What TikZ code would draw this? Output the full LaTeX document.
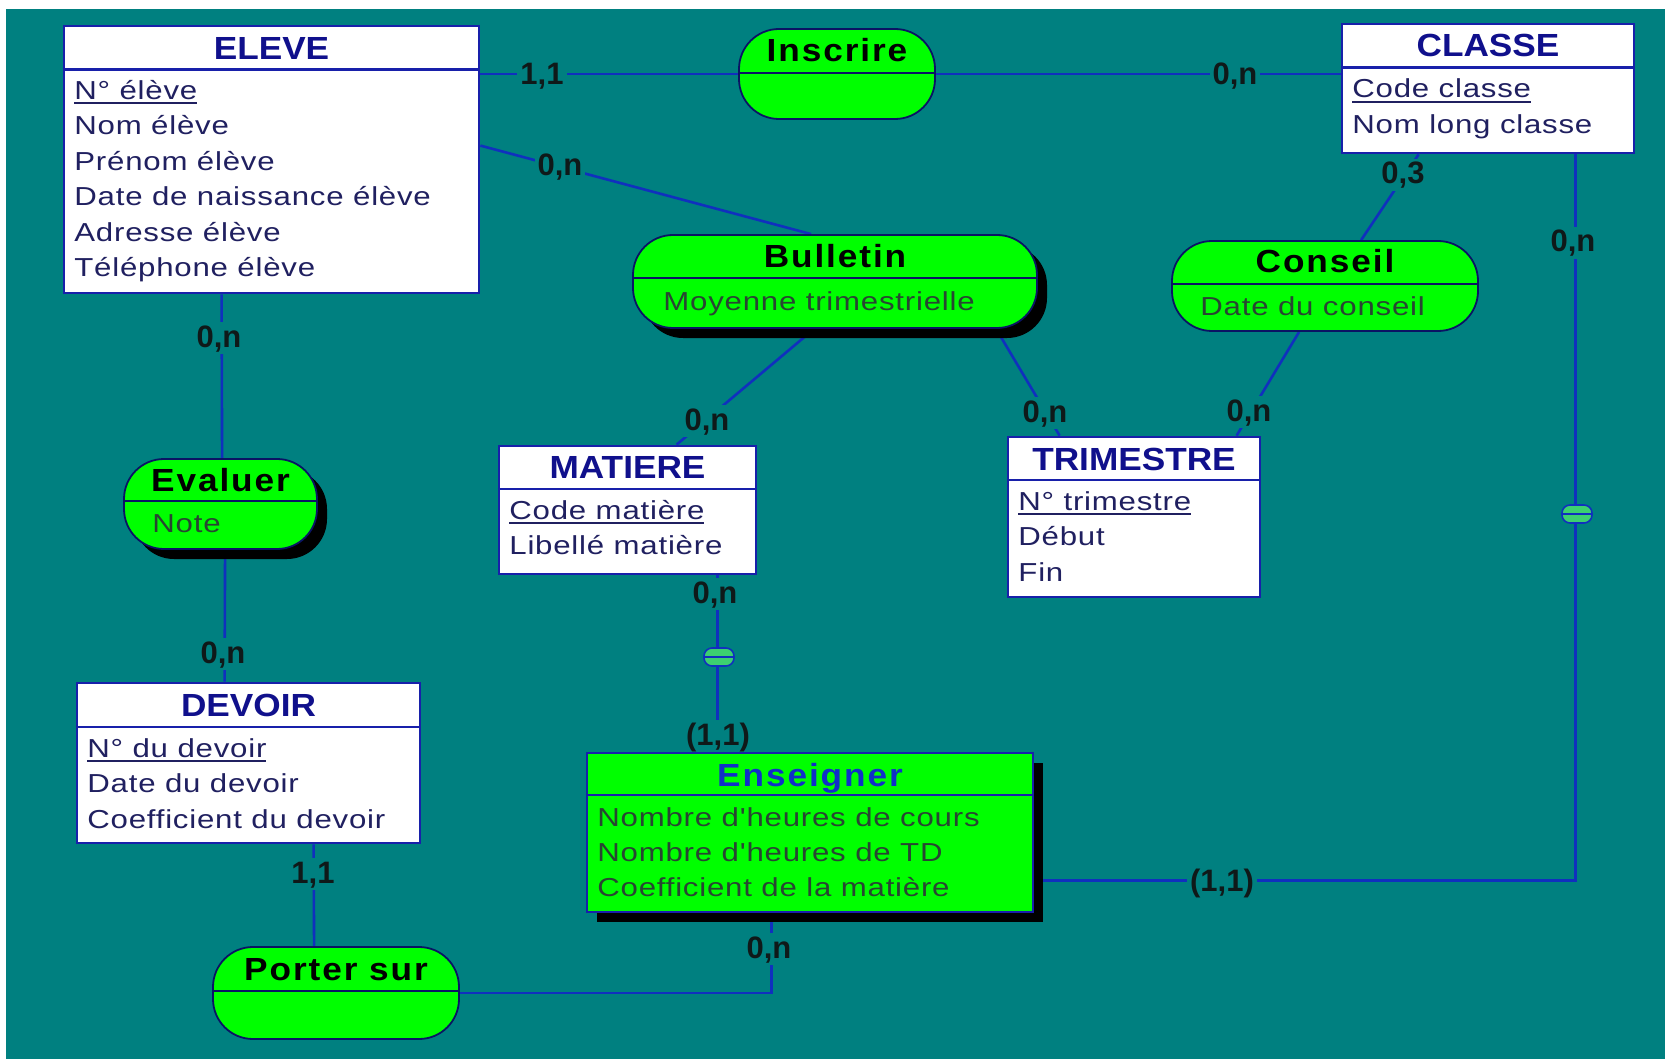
\documentclass[tikz,border=0pt]{standalone}
\usepackage{fontspec}
\setmainfont{Liberation Sans}[Ligatures=TeXOff, FakeStretch=1.2, LetterSpace=3]
\newfontfamily\headfont{Liberation Sans}[FakeStretch=1.1]
\newfontfamily\assocfont{Liberation Sans}[FakeStretch=1.1, LetterSpace=6]
\newfontfamily\cardfont{Liberation Sans}[FakeStretch=1.0]
\usetikzlibrary{fit, calc, shadows}

\definecolor{bgteal}{RGB}{0,128,128}
\definecolor{boxgreen}{RGB}{0,255,0}
\definecolor{linkblue}{RGB}{16,48,190}
\definecolor{entline}{RGB}{24,32,170}
\definecolor{relline}{RGB}{10,20,100}
\definecolor{enttitle}{RGB}{16,16,140}
\definecolor{enttext}{RGB}{32,32,96}
\definecolor{reltext}{RGB}{40,70,50}
\definecolor{asstitle}{RGB}{16,48,200}
\definecolor{eqgreen}{RGB}{60,208,112}
\definecolor{cardtext}{RGB}{15,25,25}

% underlined identifier of an entity
\newcommand\keyattr[1]{\setbox0=\hbox{#1}\rlap{\rule[-2.3pt]{\wd0}{0.8pt}}\box0}

\pgfdeclarelayer{back}
\pgfsetlayers{back,main}

\tikzset{
  link/.style={draw=linkblue, line width=1.3pt},
  entity/.style={draw=entline, line width=1.4pt, fill=white, inner sep=0pt},
  relation/.style={draw=relline, line width=0.9pt, fill=boxgreen, inner sep=0pt, rounded corners=20pt},
  shadowed/.style={drop shadow={shadow xshift=5pt, shadow yshift=-5pt, opacity=1, fill=black}},
  entrule/.style={draw=entline, line width=1.1pt},
  relrule/.style={draw=relline, line width=0.9pt},
  etitle/.style={anchor=base, font=\headfont\bfseries\fontsize{16}{18}\selectfont, text=enttitle, inner sep=0pt},
  rtitle/.style={anchor=base, font=\assocfont\bfseries\fontsize{16}{18}\selectfont, text=black, inner sep=0pt},
  eattr/.style={anchor=base west, font=\fontsize{13}{15}\selectfont, text=enttext, inner sep=0pt},
  rattr/.style={anchor=base west, font=\fontsize{13}{15}\selectfont, text=reltext, inner sep=0pt},
  card/.style={font=\cardfont\bfseries\fontsize{15.5}{17}\selectfont, text=cardtext, fill=bgteal,
    inner sep=1.5pt, text height=11pt, text depth=2pt},
  eqsign/.style={draw=linkblue, line width=0.8pt, fill=eqgreen, rounded corners=4pt,
    minimum width=15pt, minimum height=9pt, inner sep=0pt,
    path picture={\draw[linkblue, line width=0.9pt] (path picture bounding box.west) -- (path picture bounding box.east);}},
}

\begin{document}
\begin{tikzpicture}[x=0.5pt, y=-0.5pt]
\useasboundingbox (0,0) rectangle (1665,1059);
\begin{pgfonlayer}{back}
  \fill[white] (0,0) rectangle (1665,1059);
  \fill[bgteal] (6,9) rectangle (1665,1059);
\end{pgfonlayer}

% entities
\node[entity, fit={(64,26) (479,293)}] (eleve) {};
\node[entity, fit={(1342,24) (1634,153)}] (classe) {};
\node[entity, fit={(499,446) (756,574)}] (matiere) {};
\node[entity, fit={(1008,437) (1260,597)}] (trimestre) {};
\node[entity, fit={(77,683) (420,843)}] (devoir) {};
\node[entity, shadowed, fill=boxgreen, fit={(587,753) (1033,912)}] (enseigner) {};

% associations
\node[relation, fit={(739,29) (935,119)}] (inscrire) {};
\node[relation, shadowed, fit={(633,235) (1037,328)}] (bulletin) {};
\node[relation, fit={(1172,241) (1478,331)}] (conseil) {};
\node[relation, shadowed, fit={(124,459) (317,549)}] (evaluer) {};
\node[relation, fit={(213,947) (459,1039)}] (porter) {};

% header rules
\draw[entrule] ($(eleve.north west)+(0,45)$) -- ($(eleve.north east)+(0,45)$);
\draw[entrule] ($(classe.north west)+(0,45)$) -- ($(classe.north east)+(0,45)$);
\draw[entrule] ($(matiere.north west)+(0,44)$) -- ($(matiere.north east)+(0,44)$);
\draw[entrule] ($(trimestre.north west)+(0,44)$) -- ($(trimestre.north east)+(0,44)$);
\draw[entrule] ($(devoir.north west)+(0,45)$) -- ($(devoir.north east)+(0,45)$);
\draw[entrule] ($(enseigner.north west)+(0,43)$) -- ($(enseigner.north east)+(0,43)$);
\draw[relrule] ($(inscrire.north west)+(0,45)$) -- ($(inscrire.north east)+(0,45)$);
\draw[relrule] ($(bulletin.north west)+(0,44)$) -- ($(bulletin.north east)+(0,44)$);
\draw[relrule] ($(conseil.north west)+(0,44)$) -- ($(conseil.north east)+(0,44)$);
\draw[relrule] ($(evaluer.north west)+(0,43)$) -- ($(evaluer.north east)+(0,43)$);
\draw[relrule] ($(porter.north west)+(0,45)$) -- ($(porter.north east)+(0,45)$);

% titles
\node[etitle] (eleve-title) at (271.5,60) {ELEVE};
\node[etitle] (classe-title) at (1488,57) {CLASSE};
\node[etitle] (matiere-title) at (627.5,478) {MATIERE};
\node[etitle] (trimestre-title) at (1134,470) {TRIMESTRE};
\node[etitle] (devoir-title) at (248.5,716) {DEVOIR};
\node[rtitle, text=asstitle] (enseigner-title) at (810,786) {Enseigner};
\node[rtitle] (inscrire-title) at (837,62) {Inscrire};
\node[rtitle] (bulletin-title) at (835,268) {Bulletin};
\node[rtitle] (conseil-title) at (1325,273) {Conseil};
\node[rtitle] (evaluer-title) at (220.5,491) {Evaluer};
\node[rtitle] (porter-title) at (336,980) {Porter sur};

% attributes
\node[eattr] (eleve-a1) at (74,99.5) {\keyattr{N° élève}};
\node[eattr] (eleve-a2) at (74,135) {Nom élève};
\node[eattr] (eleve-a3) at (74,170.5) {Prénom élève};
\node[eattr] (eleve-a4) at (74,206) {Date de naissance élève};
\node[eattr] (eleve-a5) at (74,241.5) {Adresse élève};
\node[eattr] (eleve-a6) at (74,277) {Téléphone élève};

\node[eattr] (classe-a1) at (1352,98) {\keyattr{Code classe}};
\node[eattr] (classe-a2) at (1352,133.5) {Nom long classe};

\node[eattr] (matiere-a1) at (509,519) {\keyattr{Code matière}};
\node[eattr] (matiere-a2) at (509,554.5) {Libellé matière};

\node[eattr] (trimestre-a1) at (1018,510) {\keyattr{N° trimestre}};
\node[eattr] (trimestre-a2) at (1018,545.5) {Début};
\node[eattr] (trimestre-a3) at (1018,581) {Fin};

\node[eattr] (devoir-a1) at (87,757) {\keyattr{N° du devoir}};
\node[eattr] (devoir-a2) at (87,792.5) {Date du devoir};
\node[eattr] (devoir-a3) at (87,828) {Coefficient du devoir};

\node[rattr] (enseigner-a1) at (597,826) {Nombre d'heures de cours};
\node[rattr] (enseigner-a2) at (597,861) {Nombre d'heures de TD};
\node[rattr] (enseigner-a3) at (597,896) {Coefficient de la matière};

\node[rattr] (bulletin-a1) at (663,310) {Moyenne trimestrielle};
\node[rattr] (conseil-a1) at (1200,315) {Date du conseil};
\node[rattr] (evaluer-a1) at (152,532) {Note};

% connectors
\begin{pgfonlayer}{back}
  \draw[link] (eleve.east |- inscrire.west) -- (inscrire.west);
  \draw[link] (inscrire.east) -- (inscrire.east -| classe.west);
  \draw[link] ($(eleve.north east)+(0,121)$) -- ($(bulletin.north west)+(179,0)$);
  \draw[link] ($(eleve.south west)+(159,0)$) -- ($(evaluer.north west)+(99,0)$);
  \draw[link] ($(evaluer.south west)+(102,0)$) -- ($(devoir.north west)+(149,0)$);
  \draw[link] ($(devoir.south west)+(238,0)$) -- ($(porter.north west)+(102,0)$);
  \draw[link] (porter.east) -| ($(enseigner.south west)+(186,0)$);
  \draw[link] ($(bulletin.south west)+(182,0)$) -- ($(matiere.north west)+(179,0)$);
  \draw[link] ($(bulletin.south west)+(364,0)$) -- ($(trimestre.north west)+(53,0)$);
  \draw[link] ($(conseil.north west)+(190,0)$) -- ($(classe.south west)+(78,0)$);
  \draw[link] ($(conseil.south west)+(128,0)$) -- ($(trimestre.north west)+(230,0)$);
  \draw[link] ($(matiere.south west)+(220,0)$) -- ($(enseigner.north west)+(132,0)$);
  \draw[link] ($(classe.south west)+(235,0)$) |- ($(enseigner.north east)+(0,129)$);
\end{pgfonlayer}

% identifier-dependency marks
\node[eqsign] (eq-matiere) at (719,657) {};
\node[eqsign] (eq-classe) at (1577,514) {};

% cardinalities
\node[card] (k-eleve-inscrire) at (542,76) {1,1};
\node[card] (k-classe-inscrire) at (1235,76) {0,n};
\node[card] (k-eleve-bulletin) at (560,167) {0,n};
\node[card] (k-eleve-evaluer) at (219,338) {0,n};
\node[card] (k-devoir-evaluer) at (223,654) {0,n};
\node[card] (k-devoir-porter) at (313,874) {1,1};
\node[card] (k-enseigner-porter) at (769,949) {0,n};
\node[card] (k-matiere-bulletin) at (707,421) {0,n};
\node[card] (k-trimestre-bulletin) at (1045,413) {0,n};
\node[card] (k-classe-conseil) at (1403,175) {0,3};
\node[card] (k-trimestre-conseil) at (1249,412) {0,n};
\node[card] (k-matiere-enseigner) at (715,594) {0,n};
\node[card] (k-enseigner-matiere) at (718,736) {(1,1)};
\node[card] (k-classe-enseigner) at (1573,243) {0,n};
\node[card] (k-enseigner-classe) at (1222,882) {(1,1)};
\end{tikzpicture}
\end{document}
